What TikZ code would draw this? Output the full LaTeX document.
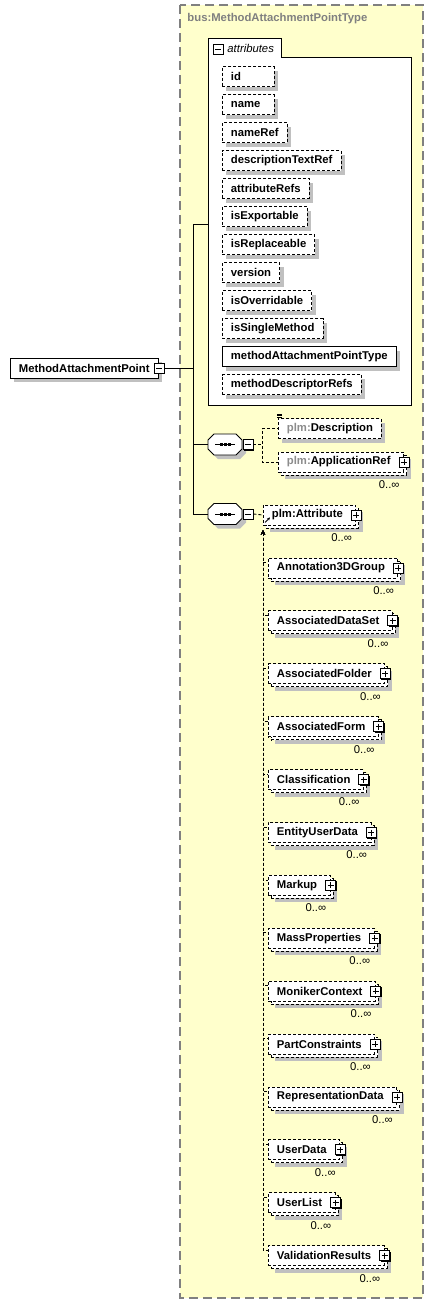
\documentclass[tikz,border=0pt]{standalone}
\usepackage{fontspec}
\setmainfont{Liberation Sans}
\usetikzlibrary{shadows,arrows.meta}
\definecolor{panel}{HTML}{FFFFCC}
\definecolor{framegray}{HTML}{808080}
\definecolor{shade}{HTML}{C0C0C0}
\definecolor{nsgray}{HTML}{8C8C8C}
\tikzset{
  lbl/.style={font=\fontsize{11.3}{13}\selectfont},
  box/.style={lbl, font=\fontsize{11.3}{13}\selectfont\bfseries, draw, fill=white, minimum height=20pt,
    inner xsep=8.5pt, inner ysep=0pt, anchor=west},
  opt/.style={dash pattern=on 3pt off 2pt},
  shade1/.style={drop shadow={shadow xshift=4pt, shadow yshift=-4pt, fill=shade, opacity=1}},
  must/.style={box, shade1},
  attr/.style={box, opt, shade1},
  short/.style={text width=35pt, align=left},
  single/.style={box, opt, shade1},
  toggle/.style={draw, solid, fill=white, minimum size=10pt, inner sep=0pt,
    drop shadow={shadow xshift=1pt, shadow yshift=-1pt, fill=black, opacity=1}},
  minusbox/.style={toggle, path picture={
    \draw ([xshift=2pt]path picture bounding box.west) -- ([xshift=-2pt]path picture bounding box.east);}},
  plusbox/.style={toggle, path picture={
    \draw ([xshift=2pt]path picture bounding box.west) -- ([xshift=-2pt]path picture bounding box.east)
          ([yshift=-2pt]path picture bounding box.north) -- ([yshift=2pt]path picture bounding box.south);}},
  card/.style={lbl, anchor=east, inner sep=0pt},
  many/.style={box, opt,
    drop shadow={shadow xshift=7pt, shadow yshift=-7pt, fill=shade, opacity=1},
    copy shadow={shadow xshift=3pt, shadow yshift=-3pt, draw=black, fill=white, opt},
    execute at end node=\hspace{4.5pt},
    append after command={\pgfextra{\edef\elemname{\tikzlastnode}}
      (\elemname.east) node[plusbox] {}
      ([xshift=-4pt, yshift=-12pt]\elemname.south east) node[card] {0..∞}}},
  compositor/.style={draw, fill=white, shade1},
  seqdots/.style={minimum width=34pt, minimum height=21pt, inner sep=0pt,
    path picture={
      \draw ([xshift=-10pt]path picture bounding box.center) -- ([xshift=10pt]path picture bounding box.center);
      \foreach \d in {-4,0,4}
        \fill ([xshift=\d pt]path picture bounding box.center) +(-1.5pt,-1.5pt) rectangle +(1.5pt,1.5pt);}},
  link/.style={opt},
  subst/.style={opt, {Stealth[length=4pt,width=4pt]}-},
  typename/.style={lbl, font=\fontsize{11.3}{13}\selectfont\bfseries, text=framegray, anchor=west, inner sep=0pt}
}
\begin{document}
\begin{tikzpicture}[x=1pt, y=-1pt, line width=0.9pt]
\useasboundingbox (0,0) rectangle (435,1304);
    % complex type
    \draw[draw=framegray, fill=panel, line width=1.2pt, dash pattern=on 9pt off 5pt] (180,5) rectangle (423,1298);
    \node[typename] (tname) at (187,19) {bus:MethodAttachmentPointType};
    %
    \draw[fill=white] (208,405) -- (208,38) -- (281,38) -- (281,57) -- (411,57) -- (411,405) -- cycle;
    \node[minusbox] (atog) at (218,49) {};
    \node[lbl, font=\fontsize{11.3}{13}\selectfont\itshape, anchor=west, inner sep=0pt] (atitle) at (227,48) {attributes};
    \node[attr, short] (id) at (222,76.5) {id};
    \node[attr, short] (name) at (222,104.5) {name};
    \node[attr] (nameref) at (222,132.5) {nameRef};
    \node[attr] (desctext) at (222,160.5) {descriptionTextRef};
    \node[attr] (attrrefs) at (222,188.5) {attributeRefs};
    \node[attr] (export) at (222,216.5) {isExportable};
    \node[attr] (replace) at (222,244.5) {isReplaceable};
    \node[attr] (version) at (222,272.5) {version};
    \node[attr] (override) at (222,300.5) {isOverridable};
    \node[attr] (single) at (222,328.5) {isSingleMethod};
    \node[must] (maptype) at (222,356.5) {methodAttachmentPointType};
    \node[attr] (mdrefs) at (222,384.5) {methodDescriptorRefs};
    %
    \node[must] (root) at (10,368) {MethodAttachmentPoint};
    \node[minusbox] (rtog) at ([xshift=1pt]root.east) {};
    \coordinate (trunk) at (193,368);
    \coordinate (attin) at (208,224);
    \draw (rtog.east) -- (trunk);
    \draw (trunk) |- (attin);
    %
    \draw[compositor] (208,449) -- ++(0,-9) -- ++(6,-6) -- ++(22,0) -- ++(6,6) -- ++(0,9) -- ++(-6,6) -- ++(-22,0) -- cycle;
    \node[seqdots] (seq1) at (225,444.5) {};
    \node[minusbox] (stog1) at ([xshift=5.5pt]seq1.east) {};
    \draw[compositor] (208,518.5) -- ++(0,-9) -- ++(6,-6) -- ++(22,0) -- ++(6,6) -- ++(0,9) -- ++(-6,6) -- ++(-22,0) -- cycle;
    \node[seqdots] (seq2) at (225,514) {};
    \node[minusbox] (stog2) at ([xshift=5.5pt]seq2.east) {};
    \draw (trunk) |- (seq1.west);
    \draw (trunk) |- (seq2.west);
    %
    \node[single] (desc) at (278,428.5) {\textcolor{nsgray}{plm:}Description};
    \foreach \k in {1,2.5,4}
      \draw[line width=0.5pt] ([xshift=-1pt, yshift=\k pt]desc.north west) -- ++(5,0);
    \node[many] (appref) at (278,462) {\textcolor{nsgray}{plm:}ApplicationRef};
    \draw[link] (stog1.east) -- ++(9,0) |- (desc.west);
    \draw[link] (stog1.east) -- ++(9,0) |- (appref.west);
    %
    \node[many] (attrib) at (263,515) {plm:Attribute};
    \draw[-{Stealth[length=3pt,width=3pt]}, line width=0.8pt] ([xshift=2pt, yshift=3pt]attrib.south west) -- ++(5,-5);
    \draw[link] (stog2.east) -- (attrib.west);
    %
    \node[many] (anno) at (268,568) {Annotation3DGroup};
    \node[many] (dataset) at (268,620.9) {AssociatedDataSet};
    \node[many] (folder) at (268,673.8) {AssociatedFolder};
    \node[many] (form) at (268,726.7) {AssociatedForm};
    \node[many] (classif) at (268,779.6) {Classification};
    \node[many] (userdata) at (268,832.5) {EntityUserData};
    \node[many] (markup) at (268,885.4) {Markup};
    \node[many] (massprop) at (268,938.3) {MassProperties};
    \node[many] (moniker) at (268,991.2) {MonikerContext};
    \node[many] (partcons) at (268,1044.1) {PartConstraints};
    \node[many] (repdata) at (268,1097) {RepresentationData};
    \node[many] (udata) at (268,1149.9) {UserData};
    \node[many] (ulist) at (268,1202.8) {UserList};
    \node[many] (valres) at (268,1255.7) {ValidationResults};
    %
    \foreach \m in {anno,dataset,folder,form,classif,userdata,markup,massprop,moniker,partcons,repdata,udata,ulist,valres}
      \draw[subst] ([yshift=-5pt]attrib.south west) |- ([yshift=-5pt]\m.north west);
\end{tikzpicture}
\end{document}
